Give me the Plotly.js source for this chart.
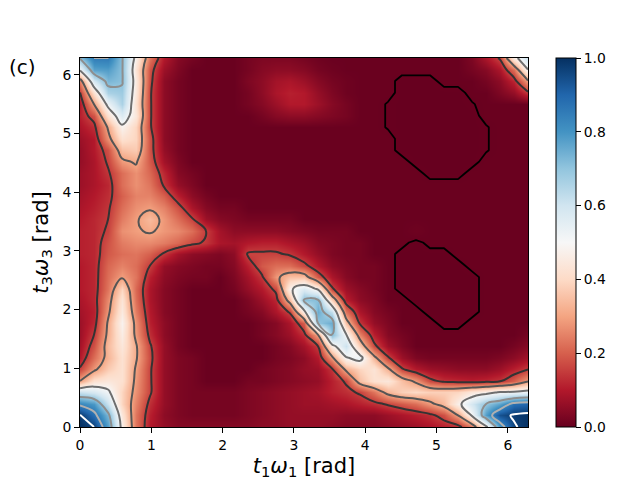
<!DOCTYPE html>
<html><head><meta charset="utf-8">
<script src="https://cdn.plot.ly/plotly-3.0.1.min.js"></script>
<style>html,body{margin:0;padding:0;background:#fff}</style></head>
<body><div id="chart" style="width:640px;height:480px"></div>
<script>
// values in percent; rows run from t3w3 = 0 upward, columns from t1w1 = 0 rightward
const gridCount = 33;
const r00=[100,97,78,47,23,10,6,4,4,4,4,4,4,5,5,6,6,6,5,4,4,4,5,6,7,9,11,12,23,46,79,96,100];
const r01=[98,88,73,44,23,11,5,3,2,2,2,2,3,4,5,6,6,6,6,5,5,5,7,9,11,13,18,30,51,78,94,98,99];
const r02=[83,79,61,39,25,13,6,3,2,2,2,2,3,4,5,6,7,7,8,9,11,13,16,19,22,28,34,47,59,70,77,88,90];
const r03=[61,58,52,39,27,16,6,3,2,2,2,2,3,4,5,6,7,8,11,13,16,23,33,38,40,38,38,39,44,47,51,52,54];
const r04=[30,42,44,42,28,16,6,3,2,.4,.4,.4,2,2,3,4,5,6,11,16,35,42,44,35,28,17,13,12,11,12,14,20,29];
const r05=[16,28,37,42,29,16,6,3,2,.4,.4,.4,.4,2,3,4,6,7,14,32,39,43,32,16,10,7,6,5,5,5,7,11,15];
const r06=[10,22,33,42,31,17,6,3,2,.4,.4,.4,.4,.4,2,3,5,10,28,49,54,33,16,7,3,2,2,2,2,2,3,5,8];
const r07=[8,18,34,44,31,16,6,2,.4,.4,.4,.4,.4,.4,2,4,8,15,46,61,37,17,7,3,.4,.4,.4,.4,.4,.4,.4,2,4];
const r08=[7,15,32,46,28,13,5,2,.4,.4,.4,.4,.4,2,4,7,13,30,71,51,25,11,4,2,.4,.4,.4,.4,.4,.4,.4,.4,2];
const r09=[7,12,31,48,27,11,5,2,.4,.4,.4,.4,.4,2,4,9,20,70,75,35,14,6,3,.4,.4,.4,0,0,.4,.4,.4,.4,.4];
const r10=[8,11,28,45,24,10,4,2,.4,.4,.4,.4,2,4,9,16,47,75,62,23,9,4,2,.4,.4,0,0,0,0,.4,.4,.4,.4];
const r11=[9,12,26,43,22,9,4,2,.4,.4,.4,.4,3,7,12,35,71,71,38,11,5,3,.4,.4,0,0,0,0,0,.4,.4,.4,.4];
const r12=[10,12,23,39,21,9,4,2,.4,.4,.4,2,6,10,17,48,57,48,16,7,4,2,.4,0,0,0,0,0,0,.4,.4,.4,.4];
const r13=[10,12,22,29,23,11,5,3,2,2,.4,3,8,14,28,35,35,19,9,4,2,2,.4,0,0,0,0,0,0,.4,.4,.4,.4];
const r14=[10,12,21,25,22,15,6,4,3,2,2,4,11,19,22,22,17,10,5,3,2,2,.4,0,0,0,0,0,.4,.4,.4,.4,.4];
const r15=[11,12,19,22,23,20,14,8,5,4,3,5,16,16,16,14,10,6,3,2,2,.4,.4,0,0,0,0,.4,.4,.4,.4,.4,.4];
const r16=[11,12,18,24,26,26,24,21,17,14,9,8,10,11,11,9,7,4,3,2,2,.4,.4,.4,0,.4,.4,.4,.4,.4,.4,.4,.4];
const r17=[11,12,16,27,29,31,28,26,22,15,8,5,5,5,5,4,3,2,2,2,.4,.4,.4,.4,1,.4,.4,.4,.4,.4,.4,.4,.4];
const r18=[10,12,15,24,29,34,28,22,16,7,4,3,2,2,2,2,.4,.4,.4,.4,.4,.4,.4,.4,.4,.4,.4,.4,.4,.4,.4,.4,.4];
const r19=[9,11,14,22,27,29,25,18,9,4,2,2,.4,.4,.4,.4,.4,.4,.4,.4,.4,.4,.4,.4,.4,.4,.4,.4,.4,.4,.4,.4,.4];
const r20=[8,10,13,20,25,25,20,11,5,2,.4,.4,.4,.4,.4,.4,.4,.4,.4,.4,.4,.4,.4,.4,.4,.4,.4,.4,.4,.4,.4,.4,.4];
const r21=[7,9,12,22,27,23,14,6,3,.4,.4,.4,.4,.4,.4,.4,.4,.4,.4,.4,.4,.4,.4,.4,.4,.4,.4,.4,.4,.4,.4,.4,.4];
const r22=[7,9,14,22,27,21,12,4,2,.4,.4,.4,.4,.4,.4,.4,.4,.4,.4,.4,.4,.4,.4,.4,.4,0,0,0,.4,.4,.4,.4,.4];
const r23=[6,9,16,28,31,19,8,3,.4,.4,.4,.4,.4,.4,.4,.4,.4,.4,.4,.4,.4,.4,.4,.4,0,0,0,0,0,.4,.4,.4,.4];
const r24=[6,10,18,35,37,18,6,2,.4,.4,.4,.4,.4,.4,.4,.4,.4,.4,.4,.4,.4,.4,.4,0,0,0,0,0,0,.15,.4,.4,.4];
const r25=[7,10,27,42,39,18,5,2,.4,.4,.4,.4,.4,.4,.4,.4,.4,.4,.4,.4,.4,.4,.4,0,0,0,0,0,0,.15,.4,.4,.4];
const r26=[9,13,31,48,39,16,5,2,.4,.4,.4,.4,.4,.4,.4,.4,.4,.4,.4,.4,.4,.4,.15,0,0,0,0,0,0,.15,.4,.4,.4];
const r27=[11,18,42,57,44,16,5,2,.4,.4,.4,.4,.4,2,4,5,5,4,3,2,.4,.4,.15,0,0,0,0,0,0,.4,.4,.4,.4];
const r28=[10,30,53,66,42,16,5,2,.4,.4,.4,.4,2,4,7,10,10,7,4,2,.4,.4,.15,0,0,0,0,0,.15,.4,.4,.4,.4];
const r29=[15,42,66,68,44,16,5,2,.4,.4,.4,.4,2,5,9,11,10,6,3,1,.4,.4,.4,0,0,0,0,0,.4,.4,3,6,14];
const r30=[25,59,73,71,45,17,5,2,.4,.4,.4,.4,3,5,8,9,7,4,2,1,.4,.4,.4,0,0,0,.4,.4,.4,2,5,12,29];
const r31=[52,77,78,71,43,18,7,3,.4,.4,.4,.4,2,4,5,5,4,2,1,.4,.4,.4,.4,.4,.4,.4,.4,.4,2,4,9,22,50];
const r32=[71,85,85.5,71,47,23,10,4,2,.4,.4,.4,2,3,3,3,2,1,.4,.4,.4,.4,.4,.4,.4,.4,.4,.4,3,9,16,46,61];

const gridRows=[r00,r01,r02,r03,r04,r05,r06,r07,r08,r09,r10,r11,r12,r13,r14,r15,r16,r17,r18,r19,r20,r21,r22,r23,r24,r25,r26,r27,r28,r29,r30,r31,r32];
const axisMax = 2*Math.PI;
const gridAxis = Array.from({length:gridCount},(_,i)=>i*axisMax/(gridCount-1));
const zValues = gridRows.map(r=>r.map(v=>v/100));

const contourLevels=[0.002,0.15,0.30,0.50,0.70,0.85,0.97];
const contourColors=['#000000','#333333','#555555','#6e6e6e','#8e8e8e','#b0b0b0','#ffffff'];
const rdbu=[[0,'#67001f'],[0.1,'#b2182b'],[0.2,'#d6604d'],[0.3,'#f4a582'],[0.4,'#fddbc7'],[0.5,'#f7f7f7'],[0.6,'#d1e5f0'],[0.7,'#92c5de'],[0.8,'#4393c3'],[0.9,'#2166ac'],[1,'#053061']];
const tickFont={family:'DejaVu Sans',size:13.9,color:'#000'};

const traces=[{
  type:'heatmap',x:gridAxis,y:gridAxis,z:zValues,zmin:0,zmax:1,zsmooth:'best',colorscale:rdbu,hoverinfo:'skip',
  colorbar:{x:1.0625,xanchor:'left',xref:'paper',y:0.5,yanchor:'middle',yref:'paper',len:1,lenmode:'fraction',thickness:20,thicknessmode:'pixels',
    outlinecolor:'#000',outlinewidth:1,ticks:'outside',ticklen:5,tickwidth:1,tickcolor:'#000',tick0:0,dtick:0.2,tickformat:'.1f',tickfont:tickFont,xpad:0,ypad:0}
}];
contourLevels.forEach((lv,i)=>traces.push({
  type:'contour',x:gridAxis,y:gridAxis,z:zValues,autocontour:false,showscale:false,hoverinfo:'skip',
  contours:{start:lv,end:lv,size:1,coloring:'none'},
  line:{color:contourColors[i],width:i===0?1.8:2,smoothing:i===0?0:1.3}
}));
const axisBase={range:[0,axisMax],showgrid:false,zeroline:false,showline:true,mirror:true,linecolor:'#000',linewidth:1,ticks:'outside',ticklen:5,tickwidth:1,tickcolor:'#000',tick0:0,dtick:1,tickfont:tickFont};
const layout={
  width:640,height:480,margin:{l:80,r:112,t:58,b:53,pad:0},paper_bgcolor:'#fff',plot_bgcolor:'#fff',showlegend:false,
  font:{family:'DejaVu Sans',color:'#000'},
  xaxis:Object.assign({},axisBase,{title:{text:'<i>t</i><sub>1</sub><i>ω</i><sub>1</sub> [rad]',font:{family:'DejaVu Sans',size:21},standoff:6}}),
  yaxis:Object.assign({},axisBase,{title:{text:'<i>t</i><sub>3</sub><i>ω</i><sub>3</sub> [rad]',font:{family:'DejaVu Sans',size:21},standoff:8}}),
  annotations:[{text:'(c)',xref:'paper',yref:'paper',x:-0.163,y:0.975,xanchor:'left',yanchor:'middle',showarrow:false,font:{family:'DejaVu Sans',size:20,color:'#000'}}]
};
Plotly.newPlot('chart',traces,layout,{displayModeBar:false,staticPlot:true});
</script></body></html>
